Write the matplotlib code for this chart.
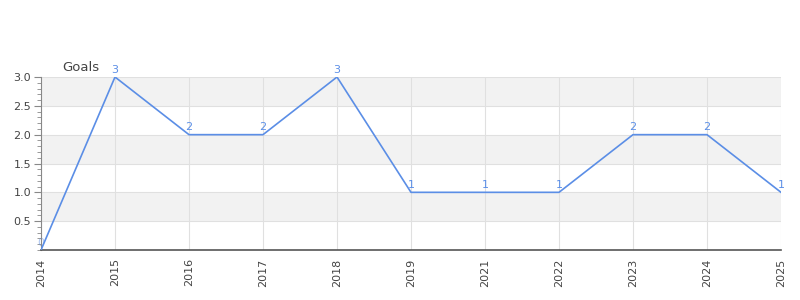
import matplotlib.pyplot as plt
from matplotlib.ticker import MultipleLocator

years = ["2014", "2015", "2016", "2017", "2018", "2019", "2021", "2022", "2023", "2024", "2025"]
goals = [0, 3, 2, 2, 3, 1, 1, 1, 2, 2, 1]

line_color = "#5b8ee6"
text_color = "#444444"

fig = plt.figure(figsize=(8, 3), dpi=100)
ax = fig.add_axes([41 / 800, 50 / 300, 740 / 800, 173 / 300])

x = list(range(len(years)))

# alternating horizontal bands
for i in range(6):
    if i % 2 == 1:
        ax.axhspan(i * 0.5, (i + 1) * 0.5, color="#f2f2f2", zorder=0, lw=0)

ax.grid(True, color="#e0e0e0", linewidth=0.8, zorder=1)
ax.set_axisbelow(True)

ax.plot(x, goals, color=line_color, linewidth=1.2, zorder=3)
for xi, v in zip(x, goals):
    ax.text(xi, v + 0.04, str(v), color=line_color, fontsize=8, alpha=0.5 if xi == 0 else 1,
            ha="center", va="bottom", zorder=2, clip_on=False)

ax.set_xlim(0, len(years) - 1)
ax.set_ylim(0, 3.0)
ax.set_xticks(x)
ax.set_xticklabels(years, rotation=90, fontsize=8, color=text_color)
ax.set_yticks([0.5, 1.0, 1.5, 2.0, 2.5, 3.0])
ax.set_yticklabels(["0.5", "1.0", "1.5", "2.0", "2.5", "3.0"], fontsize=8, color=text_color)
ax.yaxis.set_minor_locator(MultipleLocator(0.1))
ax.tick_params(axis="y", which="major", length=5, color="#888888", pad=2)
ax.tick_params(axis="y", which="minor", length=3, color="#888888")
ax.tick_params(axis="x", length=0, pad=6)

for side in ["top", "right"]:
    ax.spines[side].set_visible(False)
ax.spines["left"].set_color("#888888")
ax.spines["bottom"].set_color("#555555")
ax.spines["bottom"].set_linewidth(1.2)

fig.text(62 / 800, 1 - 67 / 300, "Goals", fontsize=9.5, color=text_color, va="center", ha="left")

plt.savefig("out.png")
